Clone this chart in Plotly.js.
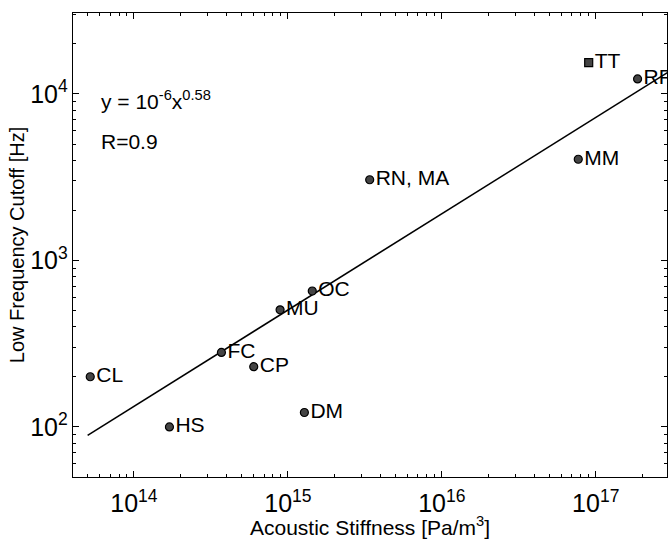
<!DOCTYPE html>
<html>
<head>
<meta charset="utf-8">
<script src="https://cdn.plot.ly/plotly-3.0.1.min.js"></script>
<style>html,body{margin:0;padding:0;background:#fff;}#chart{width:669px;height:539px;}</style>
</head>
<body>
<div id="chart"></div>
<script>
// Data
const labels = ["CL", "HS", "FC", "CP", "MU", "OC", "DM", "RN, MA", "MM", "RF"];
const stiffness = [5.2e13, 1.7e14, 3.7e14, 6.0e14, 8.9e14, 1.44e15, 1.28e15, 3.4e15, 7.7e16, 1.87e17];
const cutoff = [200, 100, 280, 230, 505, 655, 122, 3050, 4050, 12300];

const sqLabels = ["TT"];
const sqStiffness = [9.0e16];
const sqCutoff = [15400];

const fitX = [5.0e13, 2.95e17];
const fitY = [89, 13500];

const font = {family: "Liberation Sans, Arial, sans-serif", color: "#000"};

const traces = [
  {
    x: fitX, y: fitY, mode: "lines", type: "scatter",
    line: {color: "#000", width: 1.6}, hoverinfo: "skip", showlegend: false
  },
  {
    x: stiffness, y: cutoff, text: labels, mode: "markers+text", type: "scatter",
    textposition: "middle right",
    textfont: Object.assign({}, font, {size: 21}),
    marker: {symbol: "circle", size: 8, color: "#444", line: {color: "#000", width: 1.2}},
    showlegend: false
  },
  {
    x: sqStiffness, y: sqCutoff, text: sqLabels, mode: "markers+text", type: "scatter",
    textposition: "middle right",
    textfont: Object.assign({}, font, {size: 21}),
    marker: {symbol: "square", size: 8, color: "#444", line: {color: "#000", width: 1.2}},
    showlegend: false
  }
];

const axisCommon = {
  type: "log",
  showgrid: false,
  zeroline: false,
  showline: true,
  linecolor: "#000",
  linewidth: 1.3,
  mirror: "ticks",
  ticks: "inside",
  ticklen: 6,
  tickwidth: 1,
  tickcolor: "#000",
  dtick: 1,
  exponentformat: "power",
  tickfont: Object.assign({}, font, {size: 20}),
  minor: {ticks: "inside", ticklen: 3, tickwidth: 1, tickcolor: "#000", dtick: "D1", showgrid: false}
};

const layout = {
  width: 669, height: 539,
  margin: {l: 73, r: 2, t: 13, b: 62},
  paper_bgcolor: "#fff", plot_bgcolor: "#fff",
  font: font,
  xaxis: Object.assign({}, axisCommon, {
    range: [13.604, 17.463],
    ticklabelstandoff: 5,
    title: {text: "Acoustic Stiffness [Pa/m<sup>3</sup>]", font: Object.assign({}, font, {size: 21}), standoff: 0}
  }),
  yaxis: Object.assign({}, axisCommon, {
    range: [1.699, 4.486],
    title: {text: "Low Frequency Cutoff [Hz]", font: Object.assign({}, font, {size: 20}), standoff: 0}
  }),
  annotations: [
    {x: 13.775, y: 3.965, xref: "x", yref: "y", xanchor: "left", yanchor: "middle",
     text: "y = 10<sup>-6</sup>x<sup>0.58</sup>", showarrow: false, font: Object.assign({}, font, {size: 21})},
    {x: 13.775, y: 3.713, xref: "x", yref: "y", xanchor: "left", yanchor: "middle",
     text: "R=0.9", showarrow: false, font: Object.assign({}, font, {size: 21})}
  ]
};

Plotly.newPlot("chart", traces, layout, {staticPlot: true, displayModeBar: false});
</script>
</body>
</html>
